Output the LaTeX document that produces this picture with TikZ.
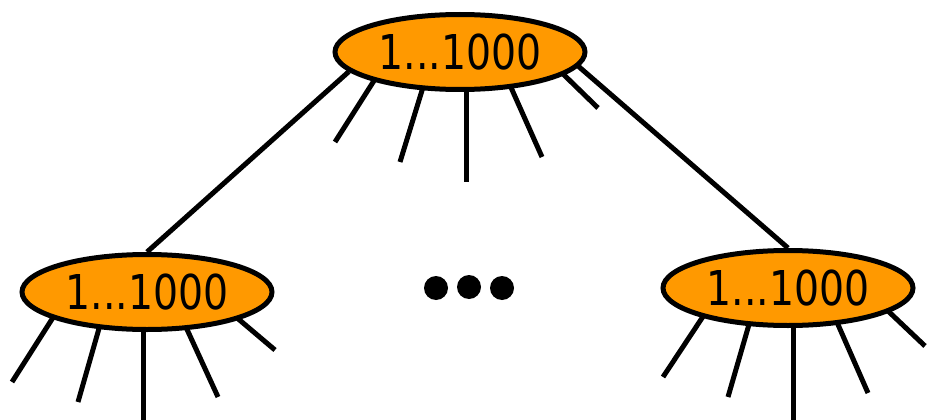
\documentclass[tikz,border=0pt]{standalone}
\usepackage{fontspec}
\setmainfont{DejaVu Sans}
\usetikzlibrary{shapes.geometric,backgrounds,calc}
\definecolor{keyorange}{HTML}{FF9900}
\tikzset{
  blocknode/.style={ellipse,draw=black,fill=keyorange,line width=5pt,inner sep=0pt,
    minimum width=250pt,minimum height=75pt,font=\fontsize{48}{48}\selectfont},
  spoke/.style={line width=5pt},
  dotnode/.style={circle,fill=black,inner sep=0pt,minimum size=24pt}
}
\newcommand{\blocklabel}{\scalebox{0.82}[1]{1...1000}}

\begin{document}
\begin{tikzpicture}[x=1pt,y=-1pt]
\useasboundingbox (0,0) rectangle (927,420);
\node[blocknode] (root) at (460,52) {\blocklabel};
\node[blocknode] (left) at (147,292) {\blocklabel};
\node[blocknode] (right) at (788,288) {\blocklabel};
% dots between the children
\foreach \x/\y/\id in {436/288/1,469/287/2,502/288/3}{
\node[dotnode] (dot\id) at (\x,\y) {};}
% edges to the children
\draw[spoke] (root.190) -- (left.north);
\draw[spoke] (root.353) -- (right.north);
% short spokes behind the blocks
\begin{scope}[on background layer]
\foreach \n/\sx/\sy/\ex/\ey in {root/-83/24/-125/90,root/-36/32/-60/110,root/6/33/6/130,root/49/31/82/105,root/101/20/138/56,
  left/-93/24/-135/90,left/-47/33/-69/110,left/-4/32/-4/135,left/38/33/71/105,left/89/25/128/58,
  right/-82/24/-125/89,right/-38/33/-60/109,right/5/33/5/135,right/48/32/80/105,right/99/22/137/58}{
\draw[spoke] ($(\n)+(\sx,\sy)$) -- ($(\n)+(\ex,\ey)$);}
\end{scope}
\end{tikzpicture}
\end{document}
